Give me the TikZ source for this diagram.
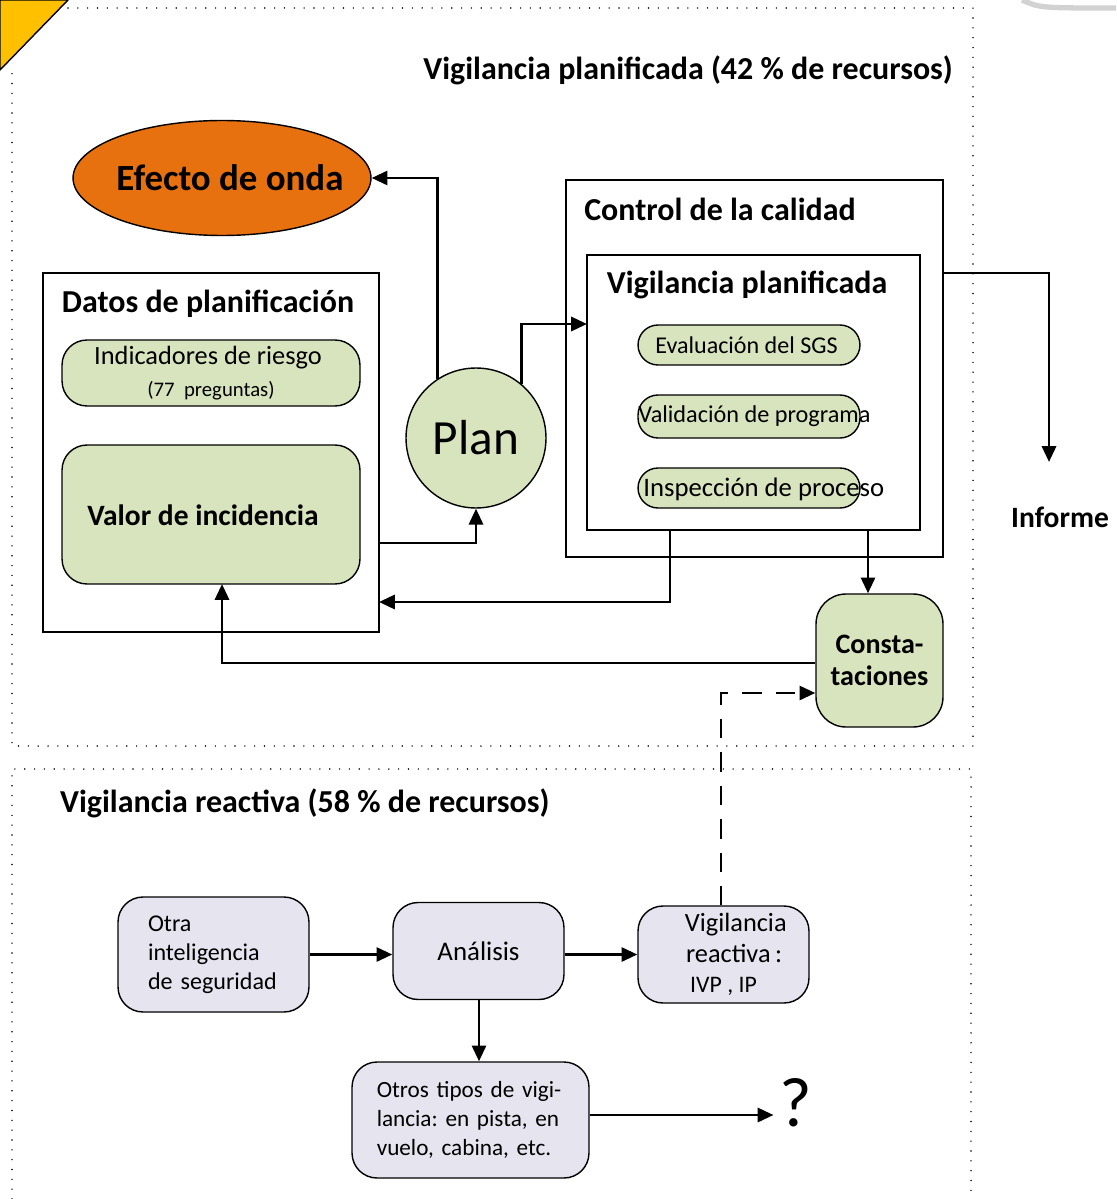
\documentclass[tikz,border=0pt]{standalone}
\usepackage{fontspec}
\setmainfont{Carlito}
\usetikzlibrary{arrows.meta, shapes.geometric}
\frenchspacing

\definecolor{verdeclaro}{HTML}{D7E4BD}
\definecolor{lila}{HTML}{E6E4EE}
\definecolor{naranja}{HTML}{E8710F}
\definecolor{amarillo}{HTML}{FFC000}

\begin{document}
\begin{tikzpicture}[x=0.02cm, y=-0.02cm,
	caja/.style={draw, line width=0.8pt, inner sep=0pt},
	verde/.style={caja, fill=verdeclaro, rounded corners=0.5cm},
	pastilla/.style={caja, fill=verdeclaro, rounded corners=0.4cm, minimum width=4.44cm, minimum height=0.8cm},
	gris/.style={caja, fill=lila, rounded corners=0.5cm},
	titulo/.style={font=\fontsize{18.2}{22}\selectfont\bfseries},
	texto/.style={font=\fontsize{14}{17}\selectfont},
	flecha/.style={line width=1.6pt, -{Triangle[length=9pt, width=8pt]}},
	zona/.style={line width=0.9pt, line cap=round, dash pattern=on 0pt off 5.6pt}]

	% marco y adornos
	\useasboundingbox (0,0) rectangle (1116,1199);
	\fill[amarillo, draw=black, line width=0.8pt] (0,0) -- (68,0) -- (0,70) -- cycle;
	\draw[gray!35, line width=3pt] (1022,0) .. controls (1040,8) .. (1116,8);
	\draw[zona] (68,8) -- (973,8) -- (973,746) -- (12,746) -- (12,70);
	\draw[zona] (12,1199) -- (12,769) -- (971,769) -- (971,1199);

	% vigilancia planificada
	\node[titulo, anchor=east] (tplan) at (959,70) {Vigilancia planificada (42 \% de recursos)};
	\node[ellipse, caja, fill=naranja, minimum width=5.96cm, minimum height=2.3cm] (onda) at (222,178) {};
	\node[font=\fontsize{21}{24}\selectfont\bfseries] (tonda) at (230,178) {Efecto de onda};

	\node[caja, minimum width=6.72cm, minimum height=7.18cm] (datos) at (211,452.5) {};
	\node[titulo] (tdatos) at (208,304) {Datos de planificación};
	\node[verde, minimum width=5.96cm, minimum height=1.32cm] (riesgo) at (211,373) {};
	\node[texto, font=\fontsize{15}{17}\selectfont] (triesgo) at (208,358) {Indicadores de riesgo};
	\node[font=\fontsize{11.8}{13}\selectfont] (tpreg) at (211,391) {(77~~preguntas)};
	\node[verde, minimum width=5.96cm, minimum height=2.78cm] (valor) at (211,514.5) {};
	\node[titulo, font=\fontsize{16.8}{20}\selectfont\bfseries] (tvalor) at (203,515) {Valor de incidencia};

	\node[circle, caja, fill=verdeclaro, minimum size=2.8cm,
		font=\fontsize{28}{30}\selectfont] (plan) at (476,438) {Plan};

	\node[caja, minimum width=7.54cm, minimum height=7.54cm] (control) at (754.5,368.5) {};
	\node[titulo] (tcontrol) at (720,209) {Control de la calidad};
	\node[caja, minimum width=6.66cm, minimum height=5.5cm] (vp) at (753.5,392.5) {};
	\node[titulo] (tvp) at (747,285) {Vigilancia planificada};

	\node[pastilla] (sgs) at (749,345) {};
	\node[texto, anchor=west, inner sep=0pt, font=\fontsize{13.7}{16}\selectfont] (tsgs) at (655,345) {Evaluación del SGS};
	\node[pastilla, minimum height=0.86cm] (prog) at (749,416.5) {};
	\node[texto, anchor=west, inner sep=0pt, font=\fontsize{13.8}{16}\selectfont] (tprog) at (638,416) {Validación de programa};
	\node[pastilla] (proc) at (749,488) {};
	\node[texto, anchor=west, inner sep=0pt, font=\fontsize{15.2}{17}\selectfont] (tproc) at (643,489) {Inspección de proceso};

	\node[verde, rounded corners=0.6cm, minimum width=2.54cm, minimum height=2.66cm,
		titulo, font=\fontsize{16}{18}\selectfont\bfseries, align=center] (const) at (879.5,660.5) {Consta-\\taciones};
	\node[titulo, font=\fontsize{16.8}{20}\selectfont\bfseries] (informe) at (1060,517) {Informe};

	% vigilancia reactiva
	\node[titulo, anchor=west] (treac) at (54,803) {Vigilancia reactiva (58 \% de recursos)};
	\node[gris, minimum width=3.82cm, minimum height=2.3cm, text width=2.62cm,
		font=\fontsize{13.7}{16.6}\selectfont, align=left] (otra) at (213.5,954.5) {Otra\\inteligencia\\de seguridad};
	\node[gris, minimum width=3.42cm, minimum height=1.94cm, font=\fontsize{15.3}{18}\selectfont] (analisis) at (478.5,951) {Análisis};
	\node[gris, minimum width=3.42cm, minimum height=1.94cm, font=\fontsize{15}{17.3}\selectfont, align=center]
		(reac) at (723.5,954.5) {\hspace*{14pt}Vigilancia\\\hspace*{12pt}reactiva\,:\\{\fontsize{13.5}{15}\selectfont IVP , IP}};
	\node[gris, minimum width=4.74cm, minimum height=2.32cm, text width=3.75cm,
		font=\fontsize{13.2}{16.4}\selectfont, align=left] (otros) at (470.5,1120) {Otros tipos de vigi-\\lancia: en pista, en\\vuelo, cabina, etc.};
	\node[font=\fontsize{40}{44}\selectfont] (duda) at (796,1103) {?};

	% conectores
	\coordinate (c1) at (379,543);
	\coordinate (c2) at (670,530);
	\coordinate (c3) at (379,602);
	\coordinate (c4) at (868,530);
	\coordinate (c5) at (587,324);
	\coordinate (c6) at (943,273);
	\coordinate (c7) at (1049,462);
	\coordinate (c8) at (721,693);

	\draw[flecha] (plan.123) |- (onda.east);
	\draw[flecha] (plan.50) |- (c5);
	\draw[flecha] (c1) -| (plan.south);
	\draw[flecha] (c2) |- (c3);
	\draw[flecha] (c4) -- (c4 |- const.north);
	\draw[flecha] (const.west |- 0,663) -| (222,584);
	\draw[flecha] (c6) -| (c7);
	\draw[flecha, dash pattern=on 11pt off 8pt] (reac.north -| c8) |- (const.west |- c8);

	\draw[flecha] (otra.east) -- (otra.east -| analisis.west);
	\draw[flecha] (analisis.east |- otra.east) -- (reac.west);
	\draw[flecha] (analisis.south -| 479,0) -- (otros.north -| 479,0);
	\draw[flecha] (otros.east |- 0,1115) -- (duda.west |- 0,1115);
\end{tikzpicture}
\end{document}
